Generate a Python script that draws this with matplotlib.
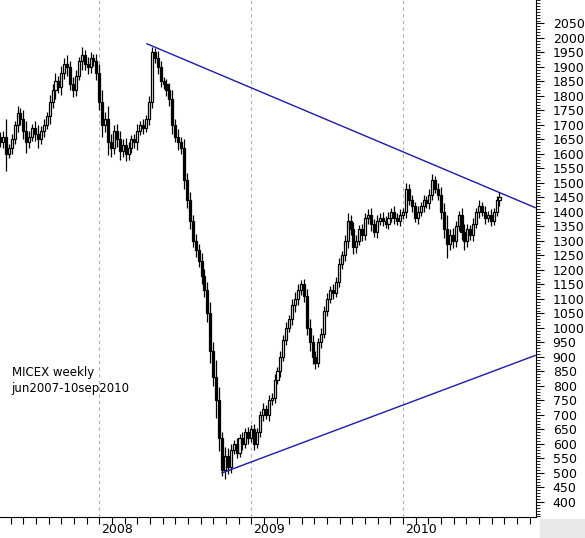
import matplotlib.pyplot as plt
import numpy as np
from matplotlib.ticker import MultipleLocator

# weekly closes, jun 2007 - 10 sep 2010
closes = [1640, 1660, 1600, 1620, 1650, 1700, 1740, 1720, 1680, 1640, 1660, 1690, 1670, 1650, 1680, 1700,
          1730, 1780, 1820, 1850, 1830, 1880, 1910, 1900, 1840, 1820, 1870, 1920, 1940, 1910, 1900, 1930, 1920, 1880,
          1780, 1700, 1720, 1640, 1620, 1680, 1650, 1610, 1630, 1600, 1620, 1650, 1640, 1680, 1700, 1690, 1720, 1780,
          1950, 1930, 1900, 1850, 1840, 1820, 1790, 1700, 1660, 1640, 1620, 1510, 1440, 1370, 1300, 1270, 1230, 1180,
          1130, 1050, 920, 830, 750, 620, 510, 560, 520, 580, 600, 570, 620, 600, 640, 620, 650,
          600, 640, 700, 720, 700, 750, 760, 820, 850, 900, 960, 1000, 1030, 1080, 1100, 1130, 1150, 1110, 1000, 950,
          900, 880, 950, 980, 1060, 1100, 1130, 1120, 1160, 1220, 1250, 1300, 1370, 1340, 1280, 1300, 1340, 1320,
          1380, 1390, 1360, 1330, 1370, 1380, 1370, 1360, 1380, 1400, 1380, 1370, 1390, 1400,
          1480, 1440, 1420, 1380, 1400, 1420, 1440, 1430, 1460, 1510, 1480, 1460, 1400, 1340, 1290, 1320, 1300, 1350,
          1390, 1330, 1300, 1340, 1320, 1360, 1400, 1420, 1400, 1380, 1390, 1370, 1400, 1440, 1450]
first_open = 1660
wicks = [30, 40, 120, 30, 40, 30, 50, 40, 60, 70, 40, 30, 50, 60, 30, 40,
         30, 50, 40, 60, 40, 50, 40, 60, 40, 50, 40, 30, 60, 40, 50, 40, 30, 50,
         60, 80, 50, 90, 60, 40, 50, 60, 40, 50, 40, 30, 40, 50, 30, 40, 30, 40,
         40, 30, 50, 40, 30, 40, 50, 60, 40, 50, 40, 60, 50, 60, 40, 50, 40, 60,
         50, 60, 80, 60, 120, 90, 40, 60, 50, 40, 30, 40, 30, 40, 30, 40, 30,
         40, 30, 30, 40, 30, 40, 30, 40, 30, 40, 30, 40, 30, 40, 50, 40, 30, 40, 50, 60,
         50, 40, 30, 40, 30, 40, 30, 40, 30, 40, 30, 40, 50, 40, 50, 40, 30, 40,
         30, 40, 50, 30, 40, 30, 40, 30, 40, 30, 40, 30, 40, 30,
         40, 30, 40, 30, 40, 30, 40, 30, 40, 40, 30, 40, 50, 60, 100, 40, 50, 40,
         30, 50, 60, 40, 30, 40, 30, 40, 30, 40, 30, 40, 30, 30, 40]

year_weeks = [34, 86, 138]
year_labels = ["2008", "2009", "2010"]
upper_line = ([50.3, 183.2], [1980, 1415])
lower_line = ([76.0, 183.2], [500, 905])

closes = np.array(closes, dtype=float)
opens = np.concatenate([[first_open], closes[:-1]])
wicks = np.array(wicks, dtype=float)
highs = np.maximum(opens, closes) + wicks * 0.5
lows = np.minimum(opens, closes) - wicks * 0.5
idx = np.arange(len(closes))

fig = plt.figure(figsize=(5.85, 5.38), dpi=100)
ax = fig.add_axes([0, 21 / 538, 536 / 585, 517 / 538])

up = closes >= opens
ax.vlines(idx, lows, highs, color="black", lw=0.9, zorder=2)
body = np.maximum(np.abs(closes - opens), 4)
ax.bar(idx[up], body[up], bottom=opens[up], width=0.7, color="white",
       edgecolor="black", lw=0.9, zorder=3)
ax.bar(idx[~up], body[~up], bottom=closes[~up], width=0.7, color="black",
       edgecolor="black", lw=0.9, zorder=3)

ax.plot(*upper_line, color="#1a1aa8", lw=1)
ax.plot(*lower_line, color="#1a1aa8", lw=1)

for w in year_weeks:
    ax.axvline(w, color="#b0b0b0", ls=(0, (3, 3)), lw=0.8, zorder=1)

ax.yaxis.tick_right()
ax.set_yticks(np.arange(400, 2051, 50))
ax.yaxis.set_minor_locator(MultipleLocator(10))
ax.tick_params(axis="y", which="major", length=6, labelsize=9, pad=6)
ax.tick_params(axis="y", which="minor", length=3)

ax.set_xticks(np.arange(34 - 52 / 12 * 7, 184, 52 / 12))
ax.set_xticks(year_weeks, minor=True)
ax.set_xticklabels([])
ax.tick_params(axis="x", which="major", length=5, direction="out")
ax.tick_params(axis="x", which="minor", length=20, direction="out")
ax.set_xlim(0, 183.5)
ax.set_ylim(348, 2131)
for w, lab in zip(year_weeks, year_labels):
    ax.text(w + 0.7, 348 - 20, lab, ha="left", va="top", fontsize=9)

for s in ["top", "left"]:
    ax.spines[s].set_visible(False)

ax.text(4, 870, "MICEX weekly\njun2007-10sep2010", fontsize=8.5, va="top", linespacing=1.3)

fig.patches.append(plt.Rectangle((540 / 585, 0), 45 / 585, 19 / 538, transform=fig.transFigure,
                                 color="#e8e8e8", zorder=0))

plt.savefig("out.png", dpi=100)
